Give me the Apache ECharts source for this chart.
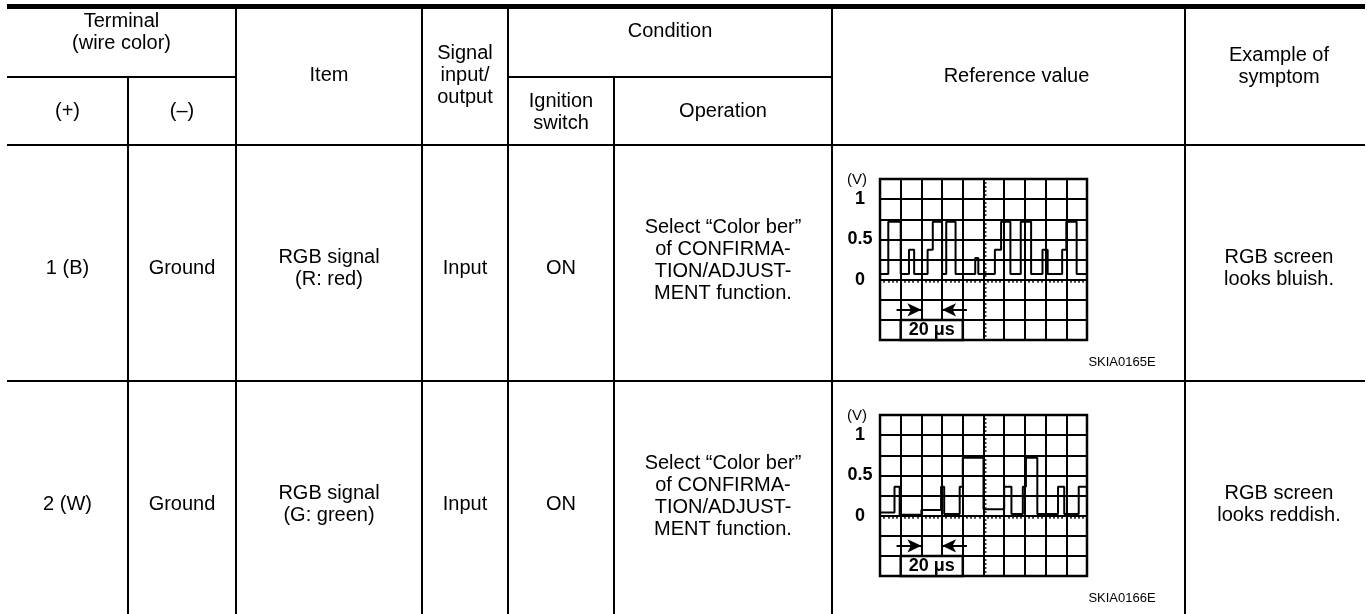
<!DOCTYPE html>
<html>
<head>
<meta charset="utf-8">
<script src="https://cdn.jsdelivr.net/npm/echarts@6/dist/echarts.min.js"></script>
<style>
html,body{margin:0;padding:0;background:#fff;}
#c{width:1367px;height:614px;}
</style>
</head>
<body>
<div id="c"></div>
<script>
// ---------------- DATA ----------------
const groupHeaders = [['Terminal', '(wire color)'], ['Condition']];
const colHeaders = [['(+)'], ['(–)'], ['Item'], ['Signal', 'input/', 'output'], ['Ignition', 'switch'], ['Operation'], ['Reference value'], ['Example of', 'symptom']];
const row1Cells = [['1 (B)'], ['Ground'], ['RGB signal', '(R: red)'], ['Input'], ['ON'], ['Select “Color ber”', 'of CONFIRMA-', 'TION/ADJUST-', 'MENT function.'], [], ['RGB screen', 'looks bluish.']];
const row2Cells = [['2 (W)'], ['Ground'], ['RGB signal', '(G: green)'], ['Input'], ['ON'], ['Select “Color ber”', 'of CONFIRMA-', 'TION/ADJUST-', 'MENT function.'], [], ['RGB screen', 'looks reddish.']];
const figureCodes = ['SKIA0165E', 'SKIA0166E'];
const unitLabel = '(V)';
const voltTickValues = [0, 0.5, 1];
const voltTickTexts = ['0', '0.5', '1'];
const scaleLabel = '20 μs';
// waveform 1 (R: red) : time (µs, centre = 0) where level changes, and level (V)
const wave1T = [-100, -92, -80, -72, -67, -54, -49, -40, -36, -27, -8, -5, 11, 17, 26, 36, 46, 57, 62, 76, 80, 90, 100];
const wave1V = [0.07, 0.72, 0.07, 0.37, 0.07, 0.37, 0.72, 0.07, 0.72, 0.07, 0.27, 0.07, 0.37, 0.72, 0.07, 0.72, 0.07, 0.37, 0.07, 0.37, 0.72, 0.07, 0.07];
// waveform 2 (G: green)
const wave2T = [-100, -86, -81, -60, -41, -38, -23, -20, 0, 20, 27, 38, 41, 52, 72, 78, 92, 100];
const wave2V = [0.04, 0.36, 0.01, 0.07, 0.36, 0.02, 0.36, 0.72, 0.08, 0.36, 0.02, 0.36, 0.72, 0.02, 0.36, 0.02, 0.36, 0.36];
// scale marks (data units)
const scaleBoxT = [-80, -20];
const scaleBoxV = [-0.75, -0.5];
const arrowLeftT = [-84, -60];
const arrowRightT = [-16, -40];
const arrowV = -0.375;

// ---------------- LAYOUT ----------------
const FONT = '"Liberation Sans", Arial, Helvetica, sans-serif';
const COLS = [7, 128, 236, 422, 508, 614, 832, 1185, 1365];
const Y_TOP = 6.5, Y_SUB = 77, Y_HEAD = 145, Y_ROW1 = 381, Y_END = 614;
const ROW_H = 236;
const LINE_H = 22;
const TXT = 20;
const GRID_L = 880, GRID_W = 207, GRID_H = 161;
const GRID_T = [179, 415];

const graphics = [];
function hline(x1, x2, y, w) { graphics.push({type: 'line', silent: true, shape: {x1: x1, y1: y, x2: x2, y2: y}, style: {stroke: '#000', lineWidth: w || 2}}); }
function vline(x, y1, y2, w) { graphics.push({type: 'line', silent: true, shape: {x1: x, y1: y1, x2: x, y2: y2}, style: {stroke: '#000', lineWidth: w || 2}}); }
function text(str, x, y, size, weight) {
  graphics.push({type: 'text', silent: true, x: x, y: y, style: {text: str, fill: '#000', fontSize: size || TXT, fontWeight: weight || 'normal', fontFamily: FONT, align: 'center', verticalAlign: 'middle'}});
}
function block(lines, cx, cy) { lines.forEach(function (s, i) { text(s, cx, cy + (i - (lines.length - 1) / 2) * LINE_H); }); }
const colC = COLS.slice(0, -1).map(function (x, i) { return (x + COLS[i + 1]) / 2; });

// table rules
hline(COLS[0], COLS[8], Y_TOP, 5);
hline(COLS[0], COLS[2], Y_SUB);
hline(COLS[4], COLS[6], Y_SUB);
hline(COLS[0], COLS[8], Y_HEAD);
hline(COLS[0], COLS[8], Y_ROW1);
[2, 3, 4, 6, 7].forEach(function (i) { vline(COLS[i], Y_TOP + 2, Y_END); });
[1, 5].forEach(function (i) { vline(COLS[i], Y_SUB, Y_END); });

// header text
block(groupHeaders[0], (COLS[0] + COLS[2]) / 2, 32);
block(groupHeaders[1], (COLS[4] + COLS[6]) / 2, 31);
const headY = [111, 111, 75, 75, 112, 111, 76, 66];
const headXo = [0, 0, 0, 0, 0, 0, 8, 4];
colHeaders.forEach(function (l, i) { block(l, colC[i] + headXo[i], headY[i]); });

// body text
[row1Cells, row2Cells].forEach(function (row, r) {
  row.forEach(function (l, i) {
    if (!l.length) return;
    const cy = (l.length === 4 ? 260 : 268) + r * ROW_H;
    block(l, colC[i] + (i === 7 ? 4 : 0), cy);
  });
  text(unitLabel, GRID_L - 23, GRID_T[r] + 1, 15, 'normal');
  text(figureCodes[r], 1122, GRID_T[r] + 183, 13, 'normal');
});

// ---------------- CHART ----------------
const grids = [], xAxes = [], yAxes = [], series = [];
[[wave1T, wave1V], [wave2T, wave2V]].forEach(function (w, i) {
  grids.push({left: GRID_L, top: GRID_T[i], width: GRID_W, height: GRID_H, show: true, borderColor: '#000', borderWidth: 2.5, backgroundColor: 'transparent'});
  xAxes.push({
    type: 'value', gridIndex: i, min: -100, max: 100, interval: 20,
    axisLine: {show: true, onZero: true, lineStyle: {color: '#000', width: 2}},
    axisTick: {show: true, length: 3, lineStyle: {color: '#000', width: 1.5}},
    minorTick: {show: true, splitNumber: 5, length: 3, lineStyle: {color: '#000', width: 1.5}},
    axisLabel: {show: false},
    splitLine: {show: true, lineStyle: {color: '#000', width: 2}},
    minorSplitLine: {show: false}
  });
  yAxes.push({
    type: 'value', gridIndex: i, min: -0.75, max: 1.25, interval: 0.25, position: 'left',
    axisLine: {show: false, onZero: false}, axisTick: {show: false},
    axisLabel: {
      show: true, align: 'center', margin: 20, color: '#000', fontSize: 18, fontWeight: 'bold', fontFamily: FONT,
      formatter: function (v) { const k = voltTickValues.indexOf(Math.round(v * 100) / 100); return k >= 0 ? voltTickTexts[k] : ''; }
    },
    splitLine: {show: true, lineStyle: {color: '#000', width: 2}}
  });
  yAxes.push({
    type: 'value', gridIndex: i, min: -0.75, max: 1.25, interval: 0.25, position: 'right',
    axisLine: {show: true, onZero: true, lineStyle: {color: '#000', width: 2}},
    axisTick: {show: true, length: 3, lineStyle: {color: '#000', width: 1.5}},
    minorTick: {show: true, splitNumber: 5, length: 3, lineStyle: {color: '#000', width: 1.5}},
    axisLabel: {show: false}, splitLine: {show: false}
  });
  series.push({
    type: 'line', xAxisIndex: i, yAxisIndex: 2 * i, step: 'end', symbol: 'none', silent: true, z: 5,
    lineStyle: {color: '#000', width: 2},
    data: w[0].map(function (t, k) { return [t, w[1][k]]; }),
    markArea: {
      silent: true, z: 6,
      itemStyle: {color: '#fff', borderColor: '#000', borderWidth: 2.5},
      label: {show: true, position: 'inside', formatter: scaleLabel, color: '#000', fontSize: 18, fontWeight: 'bold', fontFamily: FONT},
      data: [[{xAxis: scaleBoxT[0], yAxis: scaleBoxV[0]}, {xAxis: scaleBoxT[1], yAxis: scaleBoxV[1]}]]
    },
    markLine: {
      silent: true, z: 6, symbol: ['none', 'arrow'], symbolSize: [10, 14],
      lineStyle: {color: '#000', width: 2, type: 'solid'},
      label: {show: false},
      data: [
        [{coord: [arrowLeftT[0], arrowV]}, {coord: [arrowLeftT[1], arrowV]}],
        [{coord: [arrowRightT[0], arrowV]}, {coord: [arrowRightT[1], arrowV]}]
      ]
    }
  });
});

const chart = echarts.init(document.getElementById('c'), null, {renderer: 'canvas'});
chart.setOption({
  animation: false,
  backgroundColor: '#fff',
  grid: grids, xAxis: xAxes, yAxis: yAxes, series: series,
  graphic: {elements: graphics}
});
</script>
</body>
</html>
